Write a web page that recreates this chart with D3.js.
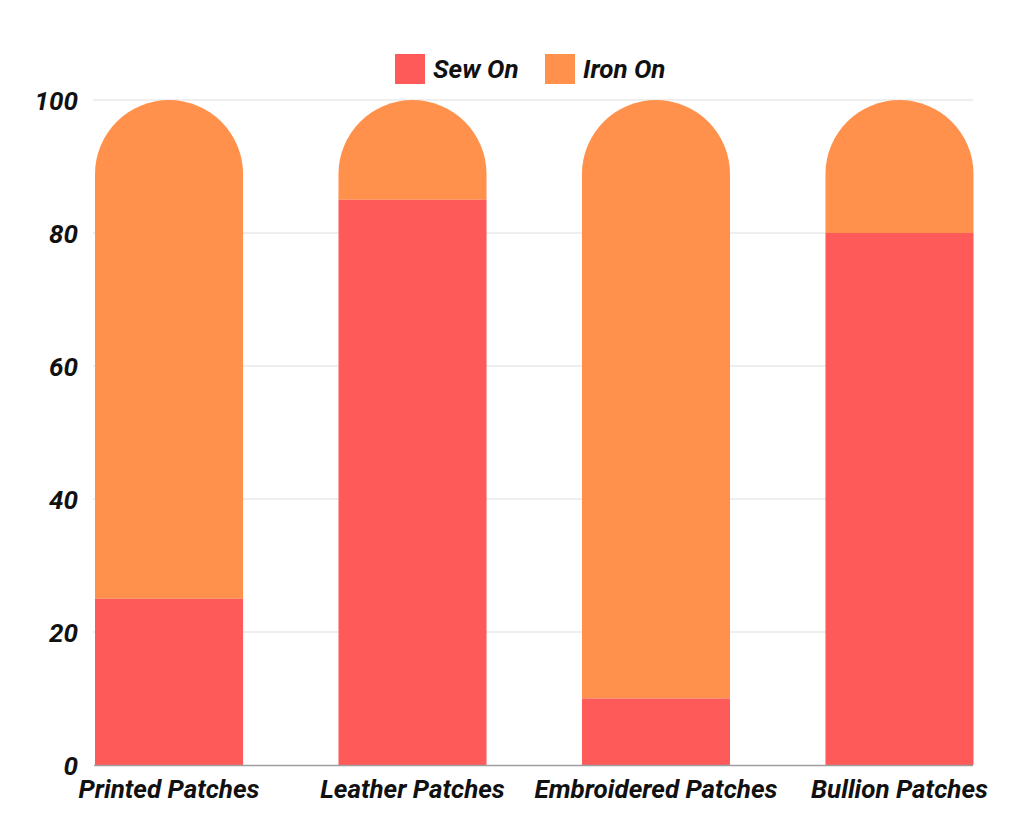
<!DOCTYPE html>
<html><head><meta charset="utf-8">
<script src="https://cdn.jsdelivr.net/npm/d3@7"></script>
<style>body{margin:0;background:#fff}svg{display:block}</style>
</head><body>
<script>
const categories = ["Printed Patches","Leather Patches","Embroidered Patches","Bullion Patches"];
const sewOn = [25, 85, 10, 80];
const ironOn = [75, 15, 90, 20];
const seriesNames = ["Sew On","Iron On"];
const yTicks = [0,20,40,60,80,100];
const colors = ["#FF5A5A","#FF914D"];

const W=1024,H=838;
const svg=d3.select("body").append("svg").attr("width",W).attr("height",H);
const font="Roboto, sans-serif";
const x=d3.scaleBand().domain(categories).range([95,973.5]).paddingInner(0.392).paddingOuter(0);
const y=d3.scaleLinear().domain([0,100]).range([765,100]);

// gridlines
svg.append("g").selectAll("line").data(yTicks.filter(d=>d>0)).join("line")
 .attr("x1",93).attr("x2",973).attr("y1",d=>y(d)).attr("y2",d=>y(d))
 .attr("stroke","#dedede").attr("stroke-width",1.2);

const data=categories.map((c,i)=>({c,sew:sewOn[i],iron:ironOn[i]}));
const bw=x.bandwidth(), r=bw/2;
svg.append("g").selectAll("path").data(data).join("path")
 .attr("fill",colors[1])
 .attr("d",d=>{
   const x0=x(d.c), x1=x0+bw, yt=y(d.sew+d.iron), yb=y(d.sew);
   return `M${x0},${yb} L${x0},${yt+r} A${r},${r} 0 0 1 ${x1},${yt+r} L${x1},${yb} Z`;
 });
svg.append("g").selectAll("rect").data(data).join("rect")
 .attr("fill",colors[0])
 .attr("x",d=>x(d.c)).attr("width",bw)
 .attr("y",d=>y(d.sew)).attr("height",d=>y(0)-y(d.sew));

// baseline
svg.append("line").attr("x1",94).attr("x2",973).attr("y1",y(0)+0.5).attr("y2",y(0)+0.5)
 .attr("stroke","#9e9e9e").attr("stroke-width",1.3);

// y axis labels
const ya=svg.append("g").attr("transform","translate(78,0)")
 .call(d3.axisLeft(y).tickValues(yTicks).tickSize(0).tickPadding(0).tickFormat(d3.format("d")));
ya.select(".domain").remove();
ya.selectAll("text").attr("font-family",font).attr("font-size",26).attr("font-weight","bold")
 .attr("font-style","italic").attr("fill","#111").attr("dy","0.35em");

// x axis labels
const xa=svg.append("g").attr("transform",`translate(0,${y(0)})`)
 .call(d3.axisBottom(x).tickSize(0).tickPadding(0));
xa.select(".domain").remove();
xa.selectAll("text").attr("font-family",font).attr("font-size",26).attr("font-weight","bold")
 .attr("font-style","italic").attr("fill","#111").attr("y",33).attr("dy","0");

// legend
const leg=[{n:seriesNames[0],c:colors[0],x:395,tx:433},{n:seriesNames[1],c:colors[1],x:545,tx:583}];
const lg=svg.append("g");
lg.selectAll("rect").data(leg).join("rect").attr("x",d=>d.x).attr("y",54).attr("width",30).attr("height",30).attr("fill",d=>d.c);
lg.selectAll("text").data(leg).join("text").attr("x",d=>d.tx).attr("y",78).text(d=>d.n)
 .attr("font-family",font).attr("font-size",26).attr("font-weight","bold").attr("font-style","italic").attr("fill","#111");
</script>
</body></html>
